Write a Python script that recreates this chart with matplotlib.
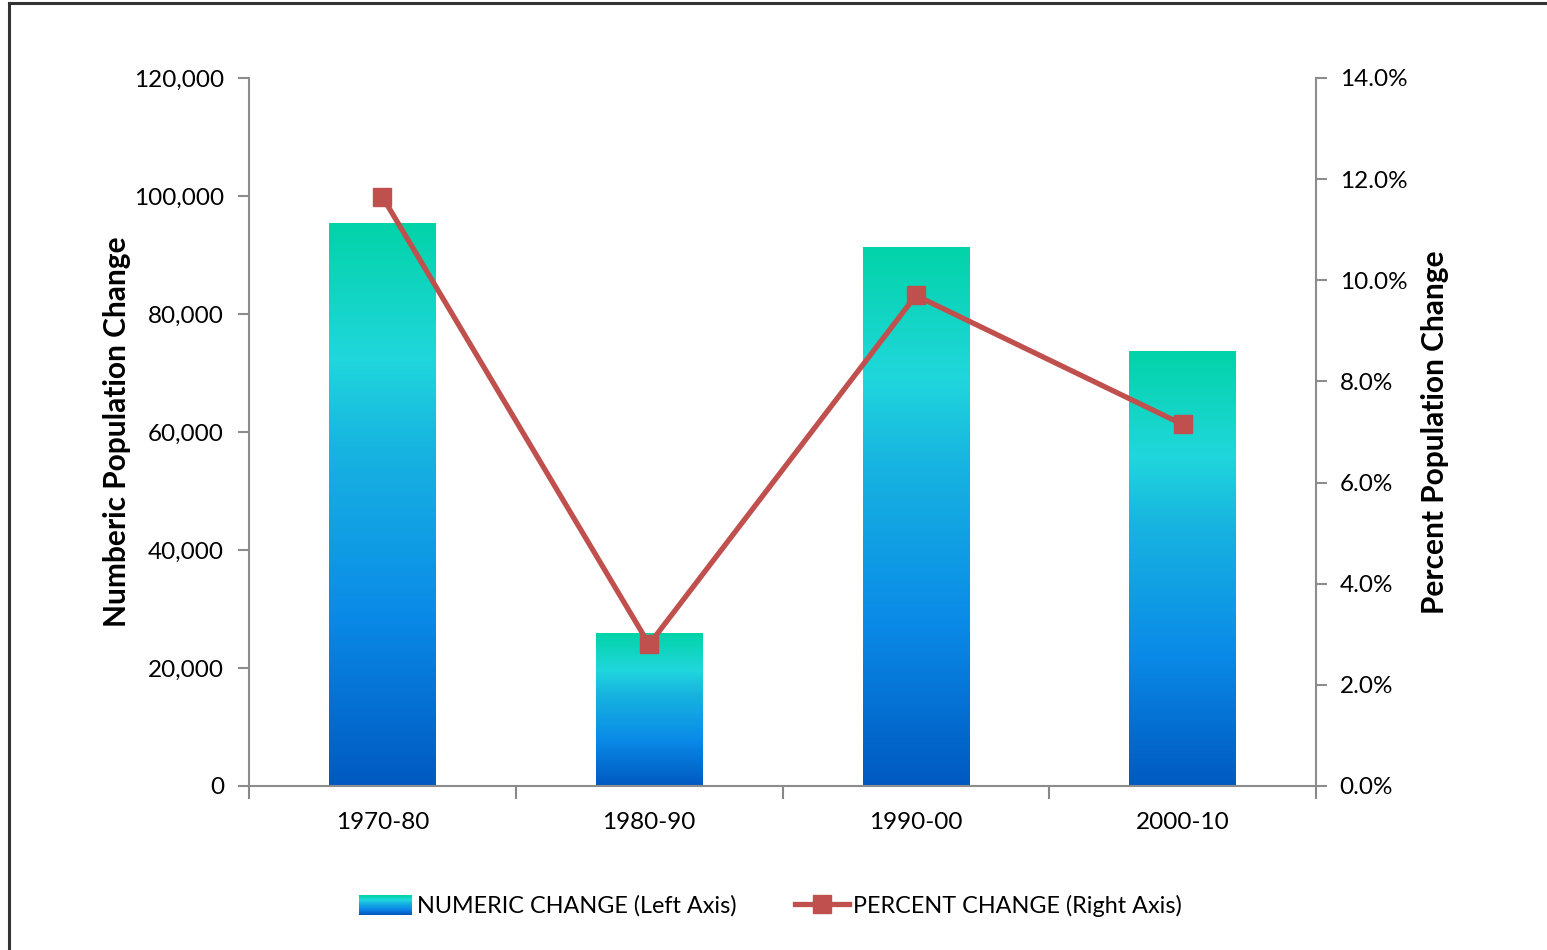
import matplotlib
matplotlib.use("Agg")
import matplotlib.pyplot as plt
import numpy as np
from matplotlib.colors import LinearSegmentedColormap
from matplotlib.lines import Line2D
from matplotlib.patches import Rectangle
from matplotlib.legend_handler import HandlerBase
from matplotlib.ticker import FuncFormatter, MultipleLocator, FixedLocator

categories = ["1970-80", "1980-90", "1990-00", "2000-10"]
numeric_change = [95400, 25800, 91200, 73700]
percent_change = [11.65, 2.8, 9.7, 7.15]

plt.rcParams['font.family'] = ['Lato', 'DejaVu Sans']

cmap = LinearSegmentedColormap.from_list("grad", [
    (0.0, "#0059C0"), (0.3, "#0A8AE8"), (0.6, "#17B4E0"),
    (0.76, "#20D7DC"), (1.0, "#02D3A8")])

fig = plt.figure(figsize=(15.47, 9.5), dpi=100)
ax = fig.add_axes([249/1547, 1-786/950, (1316-249)/1547, (786-78)/950])
ax2 = ax.twinx()

x = np.arange(len(categories))
width = 0.40
grad = np.linspace(0, 1, 256).reshape(-1, 1)
bars = ax.bar(x, numeric_change, width=width, color='none', edgecolor='none', zorder=2)
for b in bars:
    x0 = b.get_x(); w = b.get_width(); h = b.get_height()
    ax.imshow(grad, cmap=cmap, origin='lower', aspect='auto',
              extent=(x0, x0 + w, 0, h), zorder=2, interpolation='bilinear')

ax.set_xlim(-0.5, len(categories) - 0.5)
ax.set_ylim(0, 120000)
ax.yaxis.set_major_locator(MultipleLocator(20000))
ax.yaxis.set_major_formatter(FuncFormatter(lambda v, p: f"{int(v):,}"))

ax2.plot(x, percent_change, color='#C0504D', lw=3.8, marker='s', markersize=13,
         markerfacecolor='#C0504D', markeredgecolor='#C0504D', zorder=3)
ax2.set_ylim(0, 14)
ax2.yaxis.set_major_locator(MultipleLocator(2))
ax2.yaxis.set_major_formatter(FuncFormatter(lambda v, p: f"{v:.1f}%"))

ax.xaxis.set_major_locator(FixedLocator(np.arange(-0.5, len(categories), 1.0)))
ax.xaxis.set_major_formatter(FuncFormatter(lambda v, p: ""))
ax.xaxis.set_minor_locator(FixedLocator(x))
ax.set_xticklabels(categories, minor=True)
ax.tick_params(axis='x', which='major', length=9, width=1.5, color='#888888', direction='out')
ax.tick_params(axis='x', which='minor', length=0, labelsize=17.5, pad=19)

gray = '#8C8C8C'
for a in (ax, ax2):
    a.spines['top'].set_visible(False)
    for s in ('left', 'right', 'bottom'):
        a.spines[s].set_color(gray)
        a.spines[s].set_linewidth(1.5)
ax.spines['right'].set_visible(False)
ax2.spines['left'].set_visible(False)
ax2.spines['bottom'].set_visible(False)

ax.tick_params(axis='y', length=8, width=1.5, color=gray, labelsize=17.5, pad=10)
ax2.tick_params(axis='y', length=8, width=1.5, color=gray, labelsize=17.5, pad=9)

ax.set_ylabel("Numberic Population Change", fontsize=21.5, fontweight='bold', labelpad=2)
ax2.set_ylabel("Percent Population Change", fontsize=21.5, fontweight='bold', labelpad=10)


class GradHandler(HandlerBase):
    def create_artists(self, legend, orig_handle, xdescent, ydescent, width, height, fontsize, trans):
        n = 20
        arts = []
        for i in range(n):
            r = Rectangle((-xdescent, -ydescent + height * i / n), width, height / n + 0.3,
                          facecolor=cmap(i / (n - 1)), edgecolor='none', transform=trans)
            arts.append(r)
        return arts


bar_handle = Rectangle((0, 0), 1, 1)
line_handle = Line2D([], [], color='#C0504D', lw=3.8, marker='s', markersize=13)
fig.legend([bar_handle, line_handle],
           ["NUMERIC CHANGE (Left Axis)", "PERCENT CHANGE (Right Axis)"],
           handler_map={Rectangle: GradHandler()},
           loc='center', bbox_to_anchor=(0.498, 1 - 906/950), ncol=2, frameon=False,
           fontsize=16.8, handlelength=2.3, handleheight=0.9, handletextpad=0.2,
           columnspacing=2.5)

# outer border (chart area frame)
fig.add_artist(Line2D([9/1547, 9/1547], [0, 1 - 3/950], transform=fig.transFigure,
                      color='#333333', lw=2.2))
fig.add_artist(Line2D([9/1547, 1], [1 - 3/950, 1 - 3/950], transform=fig.transFigure,
                      color='#333333', lw=2.2))

fig.savefig("out.png", dpi=100)
